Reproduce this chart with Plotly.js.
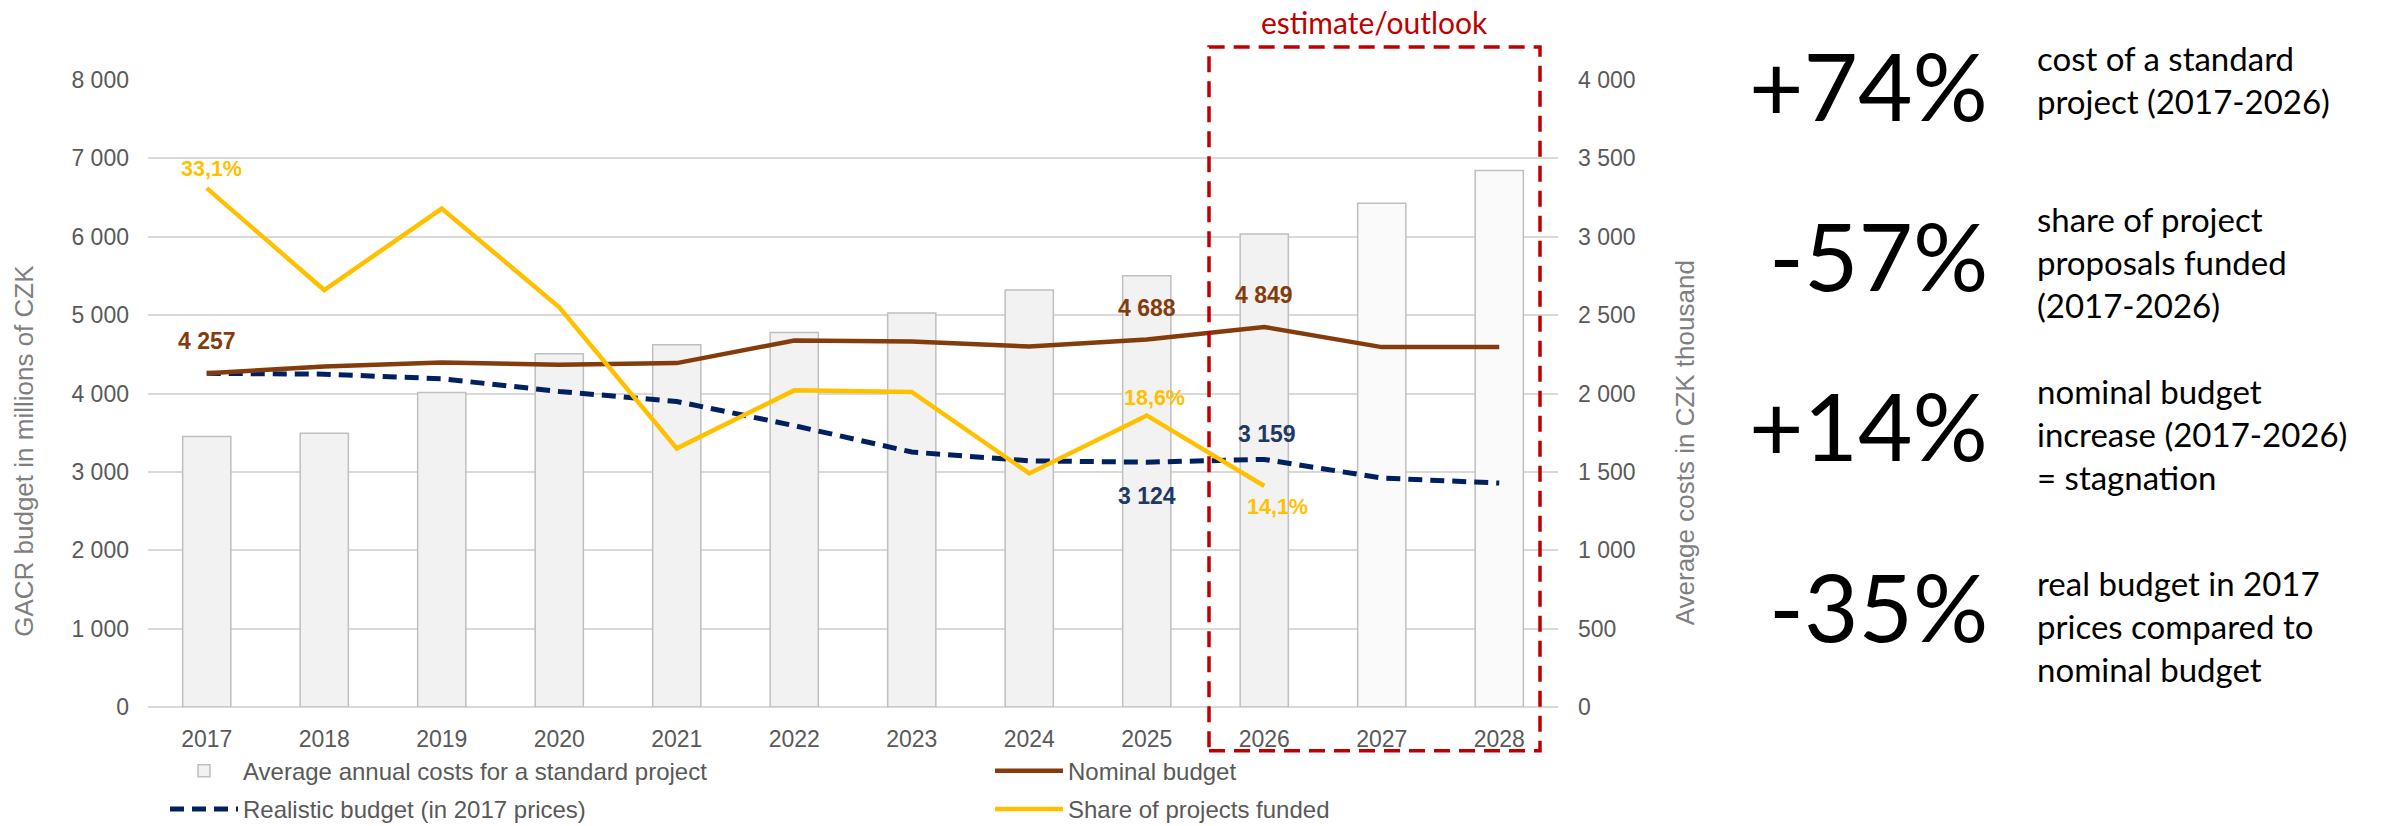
<!DOCTYPE html>
<html><head><meta charset="utf-8">
<script src="https://cdn.plot.ly/plotly-3.0.1.min.js"></script>
<style>html,body{margin:0;padding:0;background:#fff}#chart{width:2384px;height:826px}</style>
</head><body><div id="chart"></div>
<script>
// ---------- data ----------
const years = ['2017','2018','2019','2020','2021','2022','2023','2024','2025','2026','2027','2028'];
const avgProjectCost = [1726,1747,2006,2253,2311,2389,2513,2661,2751,3017,3214,3422]; // CZK thousand
const nominalBudget  = [4257,4344,4395,4366,4388,4676,4663,4600,4688,4849,4592,4592]; // CZK million
const realBudget     = [4257,4247,4188,4026,3898,3590,3253,3141,3124,3159,2921,2857]; // CZK million, 2017 prices
const shareYears     = ['2017','2018','2019','2020','2021','2022','2023','2024','2025','2026'];
const shareFunded    = [33.1,26.6,31.8,25.5,16.5,20.2,20.1,14.9,18.6,14.1]; // %
const outlookYears   = ['2027','2028'];
const seriesNames = ['Average annual costs for a standard project','Nominal budget','Realistic budget (in 2017 prices)','Share of projects funded'];
const leftAxisTitle  = 'GACR budget in millions of CZK';
const rightAxisTitle = 'Average costs in CZK thousand';
const outlookLabel   = 'estimate/outlook';
const keyFigures = ['+74%','-57%','+14%','-35%'];
const keyTexts = [
  'cost of a standard<br>project (2017-2026)',
  'share of project<br>proposals funded<br>(2017-2026)',
  'nominal budget<br>increase (2017-2026)<br>= stagnation',
  'real budget in 2017<br>prices compared to<br>nominal budget'
];
const nominalLabelYears = ['2017','2025','2026'];
const realLabelYears    = ['2025','2026'];
const shareLabelYears   = ['2017','2025','2026'];

// ---------- helpers ----------
const L = 148, R = 1558, T = 80, B = 707.3, W = R - L, H = B - T;
const xp = px => (px - L) / W;
const yp = py => (B - py) / H;
const fmtNum = v => String(Math.round(v)).replace(/\B(?=(\d{3})+(?!\d))/g, ' ');
const fmtPct = v => v.toFixed(1).replace('.', ',') + '%';

const FONT = 'Liberation Sans, Arial, sans-serif';
const CAL = 'Lato, Carlito, Calibri, sans-serif';
const cBrown = '#843c0c', cNavy = '#002060', cNavyTxt = '#203864', cYellow = '#ffc000', cRed = '#c00000';

const traces = [
  {
    type: 'bar', x: years, y: avgProjectCost, name: seriesNames[0], yaxis: 'y',
    width: 0.41,
    marker: { color: years.map(y => outlookYears.includes(y) ? '#fafafa' : '#f2f2f2'),
              line: { color: '#bfbfbf', width: 1.5 } },
    legend: 'legend', legendgroup: 'a', hoverinfo: 'skip'
  },
  {
    type: 'scatter', mode: 'lines', x: years, y: realBudget, name: seriesNames[2], yaxis: 'y2',
    line: { color: cNavy, width: 5, dash: '14px,8px' },
    legend: 'legend', legendgroup: 'b', hoverinfo: 'skip'
  },
  {
    type: 'scatter', mode: 'lines', x: years, y: nominalBudget, name: seriesNames[1], yaxis: 'y2',
    line: { color: cBrown, width: 4.5 },
    legend: 'legend2', legendgroup: 'c', hoverinfo: 'skip'
  },
  {
    type: 'scatter', mode: 'lines', x: shareYears, y: shareFunded, name: seriesNames[3], yaxis: 'y3',
    line: { color: cYellow, width: 4.5 },
    legend: 'legend2', legendgroup: 'd', hoverinfo: 'skip'
  }
];

const annotations = [];
// data labels (x given as category index)
const nomShift = { '2017': [0, 32], '2025': [0, 32], '2026': [0, 32] };
nominalLabelYears.forEach(yr => {
  const i = years.indexOf(yr);
  annotations.push({ x: i, y: nominalBudget[i], xref: 'x', yref: 'y2', text: fmtNum(nominalBudget[i]),
    showarrow: false, xanchor: 'center', yanchor: 'middle', xshift: nomShift[yr][0], yshift: nomShift[yr][1],
    font: { family: FONT, size: 23, color: cBrown, weight: 'bold' } });
});
const realShift = { '2025': [0, -34], '2026': [3, 25] };
realLabelYears.forEach(yr => {
  const i = years.indexOf(yr);
  annotations.push({ x: i, y: realBudget[i], xref: 'x', yref: 'y2', text: fmtNum(realBudget[i]),
    showarrow: false, xanchor: 'center', yanchor: 'middle', xshift: realShift[yr][0], yshift: realShift[yr][1],
    font: { family: FONT, size: 23, color: cNavyTxt, weight: 'bold' } });
});
const shareShift = { '2017': [5, 19], '2025': [8, 17], '2026': [13, -21] };
shareLabelYears.forEach(yr => {
  const i = shareYears.indexOf(yr);
  annotations.push({ x: years.indexOf(yr), y: shareFunded[i], xref: 'x', yref: 'y3', text: fmtPct(shareFunded[i]),
    showarrow: false, xanchor: 'center', yanchor: 'middle', xshift: shareShift[yr][0], yshift: shareShift[yr][1],
    font: { family: FONT, size: 21.5, color: cYellow, weight: 'bold' } });
});
// axis titles
annotations.push({ x: xp(24), y: yp(451), xref: 'paper', yref: 'paper', text: leftAxisTitle, textangle: -90,
  xanchor: 'center', yanchor: 'middle', showarrow: false, font: { family: FONT, size: 26, color: '#7f7f7f' } });
annotations.push({ x: xp(1685), y: yp(443.5), xref: 'paper', yref: 'paper', text: rightAxisTitle, textangle: -90,
  xanchor: 'center', yanchor: 'middle', showarrow: false, font: { family: FONT, size: 26, color: '#7f7f7f' } });
// outlook label
annotations.push({ x: xp(1374.5), y: yp(22), xref: 'paper', yref: 'paper', text: outlookLabel,
  xanchor: 'center', yanchor: 'middle', showarrow: false, font: { family: CAL, size: 30, color: cRed } });
// key figures
const figY = [85, 255, 425, 606];
const txtY = [79.5, 262, 434, 626];
keyFigures.forEach((t, k) => {
  annotations.push({ x: xp(1990), y: yp(figY[k]), xref: 'paper', yref: 'paper', text: t,
    xanchor: 'right', yanchor: 'middle', showarrow: false, font: { family: CAL, size: 94, color: '#000' } });
  annotations.push({ x: xp(2035), y: yp(txtY[k]), xref: 'paper', yref: 'paper', text: keyTexts[k],
    xanchor: 'left', yanchor: 'middle', align: 'left', showarrow: false, font: { family: CAL, size: 33, color: '#000' } });
});

const layout = {
  width: 2384, height: 826,
  margin: { l: L, r: 2384 - R, t: T, b: 826 - B, pad: 0, autoexpand: false },
  paper_bgcolor: '#fff', plot_bgcolor: '#fff',
  separators: ', ',
  font: { family: FONT, color: '#595959', size: 23 },
  showlegend: true,
  xaxis: { type: 'category', range: [-0.5, 11.5], autorange: false, tickfont: { size: 23, color: '#595959' },
           showgrid: false, zeroline: false, showline: false, ticks: '', ticklabelstandoff: 16 },
  yaxis: { side: 'right', range: [0, 4000], dtick: 500, tickformat: ',d', showgrid: true,
           gridcolor: '#d9d9d9', gridwidth: 2, zeroline: true, zerolinecolor: '#d9d9d9', zerolinewidth: 2,
           showline: false, ticks: '', tickfont: { size: 23, color: '#595959' }, ticklabelstandoff: 19 },
  yaxis2: { overlaying: 'y', side: 'left', range: [0, 8000], dtick: 1000, tickformat: ',d', showgrid: false,
            zeroline: false, showline: false, ticks: '', tickfont: { size: 23, color: '#595959' }, ticklabelstandoff: 18 },
  yaxis3: { overlaying: 'y', range: [0, 40], visible: false },
  legend: { x: xp(165), y: yp(749), xanchor: 'left', yanchor: 'top', orientation: 'v', traceorder: 'grouped',
            tracegroupgap: 4, itemwidth: 68, bgcolor: 'rgba(0,0,0,0)', font: { family: FONT, size: 24, color: '#595959' } },
  legend2: { x: xp(990), y: yp(749), xanchor: 'left', yanchor: 'top', orientation: 'v', traceorder: 'grouped',
            tracegroupgap: 4, itemwidth: 68, bgcolor: 'rgba(0,0,0,0)', font: { family: FONT, size: 24, color: '#595959' } },
  shapes: [
    { type: 'rect', xref: 'paper', yref: 'paper', x0: xp(1209), x1: xp(1540), y0: yp(751), y1: yp(47),
      line: { color: cRed, width: 3.5, dash: '16px,9px' }, fillcolor: 'rgba(0,0,0,0)', layer: 'above' }
  ],
  annotations: annotations
};

Plotly.newPlot('chart', traces, layout, { staticPlot: true, displayModeBar: false });
</script>
</body></html>
